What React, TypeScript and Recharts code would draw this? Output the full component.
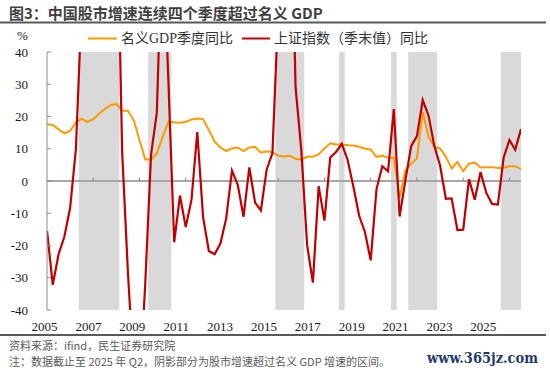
import React from 'react';
import { LineChart, Line, XAxis, YAxis, ReferenceArea, ReferenceLine } from 'recharts';

const quarters = [
  '2004Q4',
  '2005Q1', '2005Q2', '2005Q3', '2005Q4',
  '2006Q1', '2006Q2', '2006Q3', '2006Q4',
  '2007Q1', '2007Q2', '2007Q3', '2007Q4',
  '2008Q1', '2008Q2', '2008Q3', '2008Q4',
  '2009Q1', '2009Q2', '2009Q3', '2009Q4',
  '2010Q1', '2010Q2', '2010Q3', '2010Q4',
  '2011Q1', '2011Q2', '2011Q3', '2011Q4',
  '2012Q1', '2012Q2', '2012Q3', '2012Q4',
  '2013Q1', '2013Q2', '2013Q3', '2013Q4',
  '2014Q1', '2014Q2', '2014Q3', '2014Q4',
  '2015Q1', '2015Q2', '2015Q3', '2015Q4',
  '2016Q1', '2016Q2', '2016Q3', '2016Q4',
  '2017Q1', '2017Q2', '2017Q3', '2017Q4',
  '2018Q1', '2018Q2', '2018Q3', '2018Q4',
  '2019Q1', '2019Q2', '2019Q3', '2019Q4',
  '2020Q1', '2020Q2', '2020Q3', '2020Q4',
  '2021Q1', '2021Q2', '2021Q3', '2021Q4',
  '2022Q1', '2022Q2', '2022Q3', '2022Q4',
  '2023Q1', '2023Q2', '2023Q3', '2023Q4',
  '2024Q1', '2024Q2', '2024Q3', '2024Q4',
  '2025Q1', '2025Q2',
];

// 名义GDP季度同比 (%)
const gdpYoY = [
  17.6,
  17.4, 16.0, 14.8, 15.5,
  18.2, 19.3, 18.3, 19.2,
  20.8, 22.3, 23.6, 23.9,
  21.8, 21.8, 18.9, 12.7,
  6.7, 6.7, 8.5, 13.7,
  18.4, 18.2, 18.1, 18.3,
  19.1, 19.4, 19.2, 15.8,
  12.2, 10.4, 9.3, 10.1,
  10.4, 9.3, 10.4, 10.6,
  8.8, 9.2, 8.9, 7.8,
  7.6, 7.8, 6.9, 6.7,
  7.5, 7.5, 8.3, 10.1,
  11.7, 11.3, 11.3, 11.1,
  11.0, 10.6, 10.0, 9.8,
  7.5, 7.8, 7.2, 7.2,
  -5.2, 3.3, 5.4, 7.0,
  21.5, 13.7, 10.6, 10.1,
  7.5, 3.9, 5.9, 3.0,
  5.4, 5.7, 4.2, 4.3,
  4.3, 4.0, 4.1, 4.6,
  4.6, 3.7,
];

// 上证指数（季末值）同比 (%)
const shYoY = [
  -15.4,
  -32.2, -22.7, -17.3, -8.3,
  9.9, 54.7, 51.6, 130.4,
  145.2, 128.5, 216.8, 96.7,
  9.1, -28.4, -58.7, -65.4,
  -31.7, 8.2, 21.2, 80.0,
  31.0, -19.0, -4.5, -14.3,
  -5.8, 15.2, -11.2, -21.7,
  -22.7, -19.4, -11.6, 3.2,
  -1.2, -11.1, 4.2, -6.7,
  -9.1, 3.5, 8.7, 52.9,
  84.3, 108.8, 29.1, 9.4,
  -19.9, -31.5, -1.6, -12.3,
  7.3, 9.0, 11.5, 6.6,
  -1.7, -10.8, -15.8, -24.6,
  -2.5, 4.6, 3.0, 22.3,
  -11.0, 0.2, 10.8, 13.9,
  25.1, 20.3, 10.9, 4.8,
  -5.5, -5.4, -15.2, -15.1,
  0.6, -5.8, 2.8, -3.7,
  -7.1, -7.3, 7.3, 12.7,
  9.7, 16.1,
];

// 阴影：股市增速超过名义GDP增速的区间
const shadeStart = ['2006Q2', '2009Q2', '2014Q4', '2017Q3', '2019Q4', '2020Q3', '2024Q3'];
const shadeEnd = ['2007Q4', '2010Q1', '2015Q4', '2017Q3', '2019Q4', '2021Q3', '2025Q2'];

const xTickLabels = ['2005', '2007', '2009', '2011', '2013', '2015', '2017', '2019', '2021', '2023', '2025'];
const xTickIdx = [0, 8, 16, 24, 32, 40, 48, 56, 64, 72, 80];
const yTicks = [-40, -30, -20, -10, 0, 10, 20, 30, 40];

const data = quarters.map((q, i) => ({ idx: i, q, gdp: gdpYoY[i], sh: shYoY[i] }));
const lastIdx = quarters.length - 1;

const SERIF = '"Liberation Serif", "Times New Roman", "Noto Sans CJK SC", serif';
const SANS_CJK = '"Noto Sans CJK SC", "Noto Sans", sans-serif';

const XTick = (props: any) => {
  const { x, y, payload } = props;
  const k = xTickIdx.indexOf(payload.value);
  const shift = -2.5 - 2.36 * k;
  return (
    <text x={x + shift} y={y} dy={9} textAnchor="middle" fontFamily={SERIF} fontSize={13} fill="#1a1a1a">
      {xTickLabels[k]}
    </text>
  );
};

const YTick = (props: any) => {
  const { x, y, payload } = props;
  return (
    <text x={x} y={y} dy={4.5} textAnchor="end" fontFamily={SERIF} fontSize={13} fill="#1a1a1a">
      {payload.value}
    </text>
  );
};

export default function App() {
  return (
    <div style={{ position: 'absolute', left: 0, top: 0, width: 550, height: 373, background: '#ffffff', overflow: 'hidden' }}>
      <LineChart
        width={550}
        height={373}
        data={data}
        margin={{ top: 52, right: 29, bottom: 33, left: 0 }}
      >
        {shadeStart.map((s, k) => {
          const a = quarters.indexOf(s) - 0.5;
          const bRaw = quarters.indexOf(shadeEnd[k]) + 0.5;
          const b = Math.min(bRaw, lastIdx);
          return (
            <ReferenceArea
              key={'sh' + k}
              x1={a}
              x2={b}
              y1={-40}
              y2={40}
              fill="#d9d9d9"
              fillOpacity={1}
              stroke="none"
              ifOverflow="hidden"
            />
          );
        })}
        <XAxis
          dataKey="idx"
          type="number"
          domain={[0, lastIdx]}
          ticks={xTickIdx}
          interval={0}
          axisLine={false}
          tickLine={false}
          tickMargin={6}
          height={30}
          tick={<XTick />}
          allowDataOverflow
        />
        <YAxis
          type="number"
          domain={[-40, 40]}
          ticks={yTicks}
          interval={0}
          allowDataOverflow
          width={47}
          axisLine={{ stroke: '#8c8c8c', strokeWidth: 1 }}
          tickLine={{ stroke: '#8c8c8c', strokeWidth: 1 }}
          tickSize={-4}
          tickMargin={23}
          tick={<YTick />}
        />
        <ReferenceLine y={0} stroke="#a6a6a6" strokeWidth={2} />
        {xTickIdx.slice(1).map((t) => (
          <ReferenceLine
            key={'xt' + t}
            segment={[{ x: t, y: 0 }, { x: t, y: 1.1 }]}
            stroke="#8c8c8c"
            strokeWidth={1}
          />
        ))}
        <Line
          type="linear"
          dataKey="gdp"
          stroke="#ff9900"
          strokeWidth={2}
          dot={false}
          activeDot={false}
          isAnimationActive={false}
        />
        <Line
          type="linear"
          dataKey="sh"
          stroke="#c00000"
          strokeWidth={2.2}
          dot={false}
          activeDot={false}
          isAnimationActive={false}
        />
      </LineChart>
      <svg
        width={550}
        height={373}
        style={{ position: 'absolute', left: 0, top: 0, pointerEvents: 'none' }}
      >
        <text x={9} y={19} fontFamily={SANS_CJK} fontWeight={700} fontSize={15} fill="#404040">
          图3：中国股市增速连续四个季度超过名义 GDP
        </text>
        <line x1={0} y1={22.5} x2={546} y2={22.5} stroke="#595959" strokeWidth={2} />
        <text x={17} y={39.5} fontFamily={SERIF} fontSize={13} fill="#1a1a1a">%</text>
        <line x1={88} y1={38.5} x2={117} y2={38.5} stroke="#ff9900" strokeWidth={2} />
        <text x={121} y={43} fontFamily={SERIF} fontSize={14} fill="#333333">名义GDP季度同比</text>
        <line x1={242} y1={38.5} x2={270} y2={38.5} stroke="#c00000" strokeWidth={2} />
        <text x={274} y={43} fontFamily={SERIF} fontSize={14} fill="#333333">上证指数（季末值）同比</text>
        <line x1={0} y1={335} x2={546} y2={335} stroke="#595959" strokeWidth={2} />
        <text x={9} y={350} fontFamily={SANS_CJK} fontSize={11} fill="#595959">资料来源：ifind，民生证券研究院</text>
        <text x={9} y={366} fontFamily={SANS_CJK} fontSize={11} fill="#595959">
          注：数据截止至 2025 年 Q2，阴影部分为股市增速超过名义 GDP 增速的区间。
        </text>
        <text
          x={427}
          y={363}
          fontFamily={'"DejaVu Serif", serif'}
          fontWeight={700}
          fontSize={14}
          fill="#1f3a6e"
          textLength={111}
          lengthAdjust="spacingAndGlyphs"
        >
          www.365jz.com
        </text>
      </svg>
    </div>
  );
}
